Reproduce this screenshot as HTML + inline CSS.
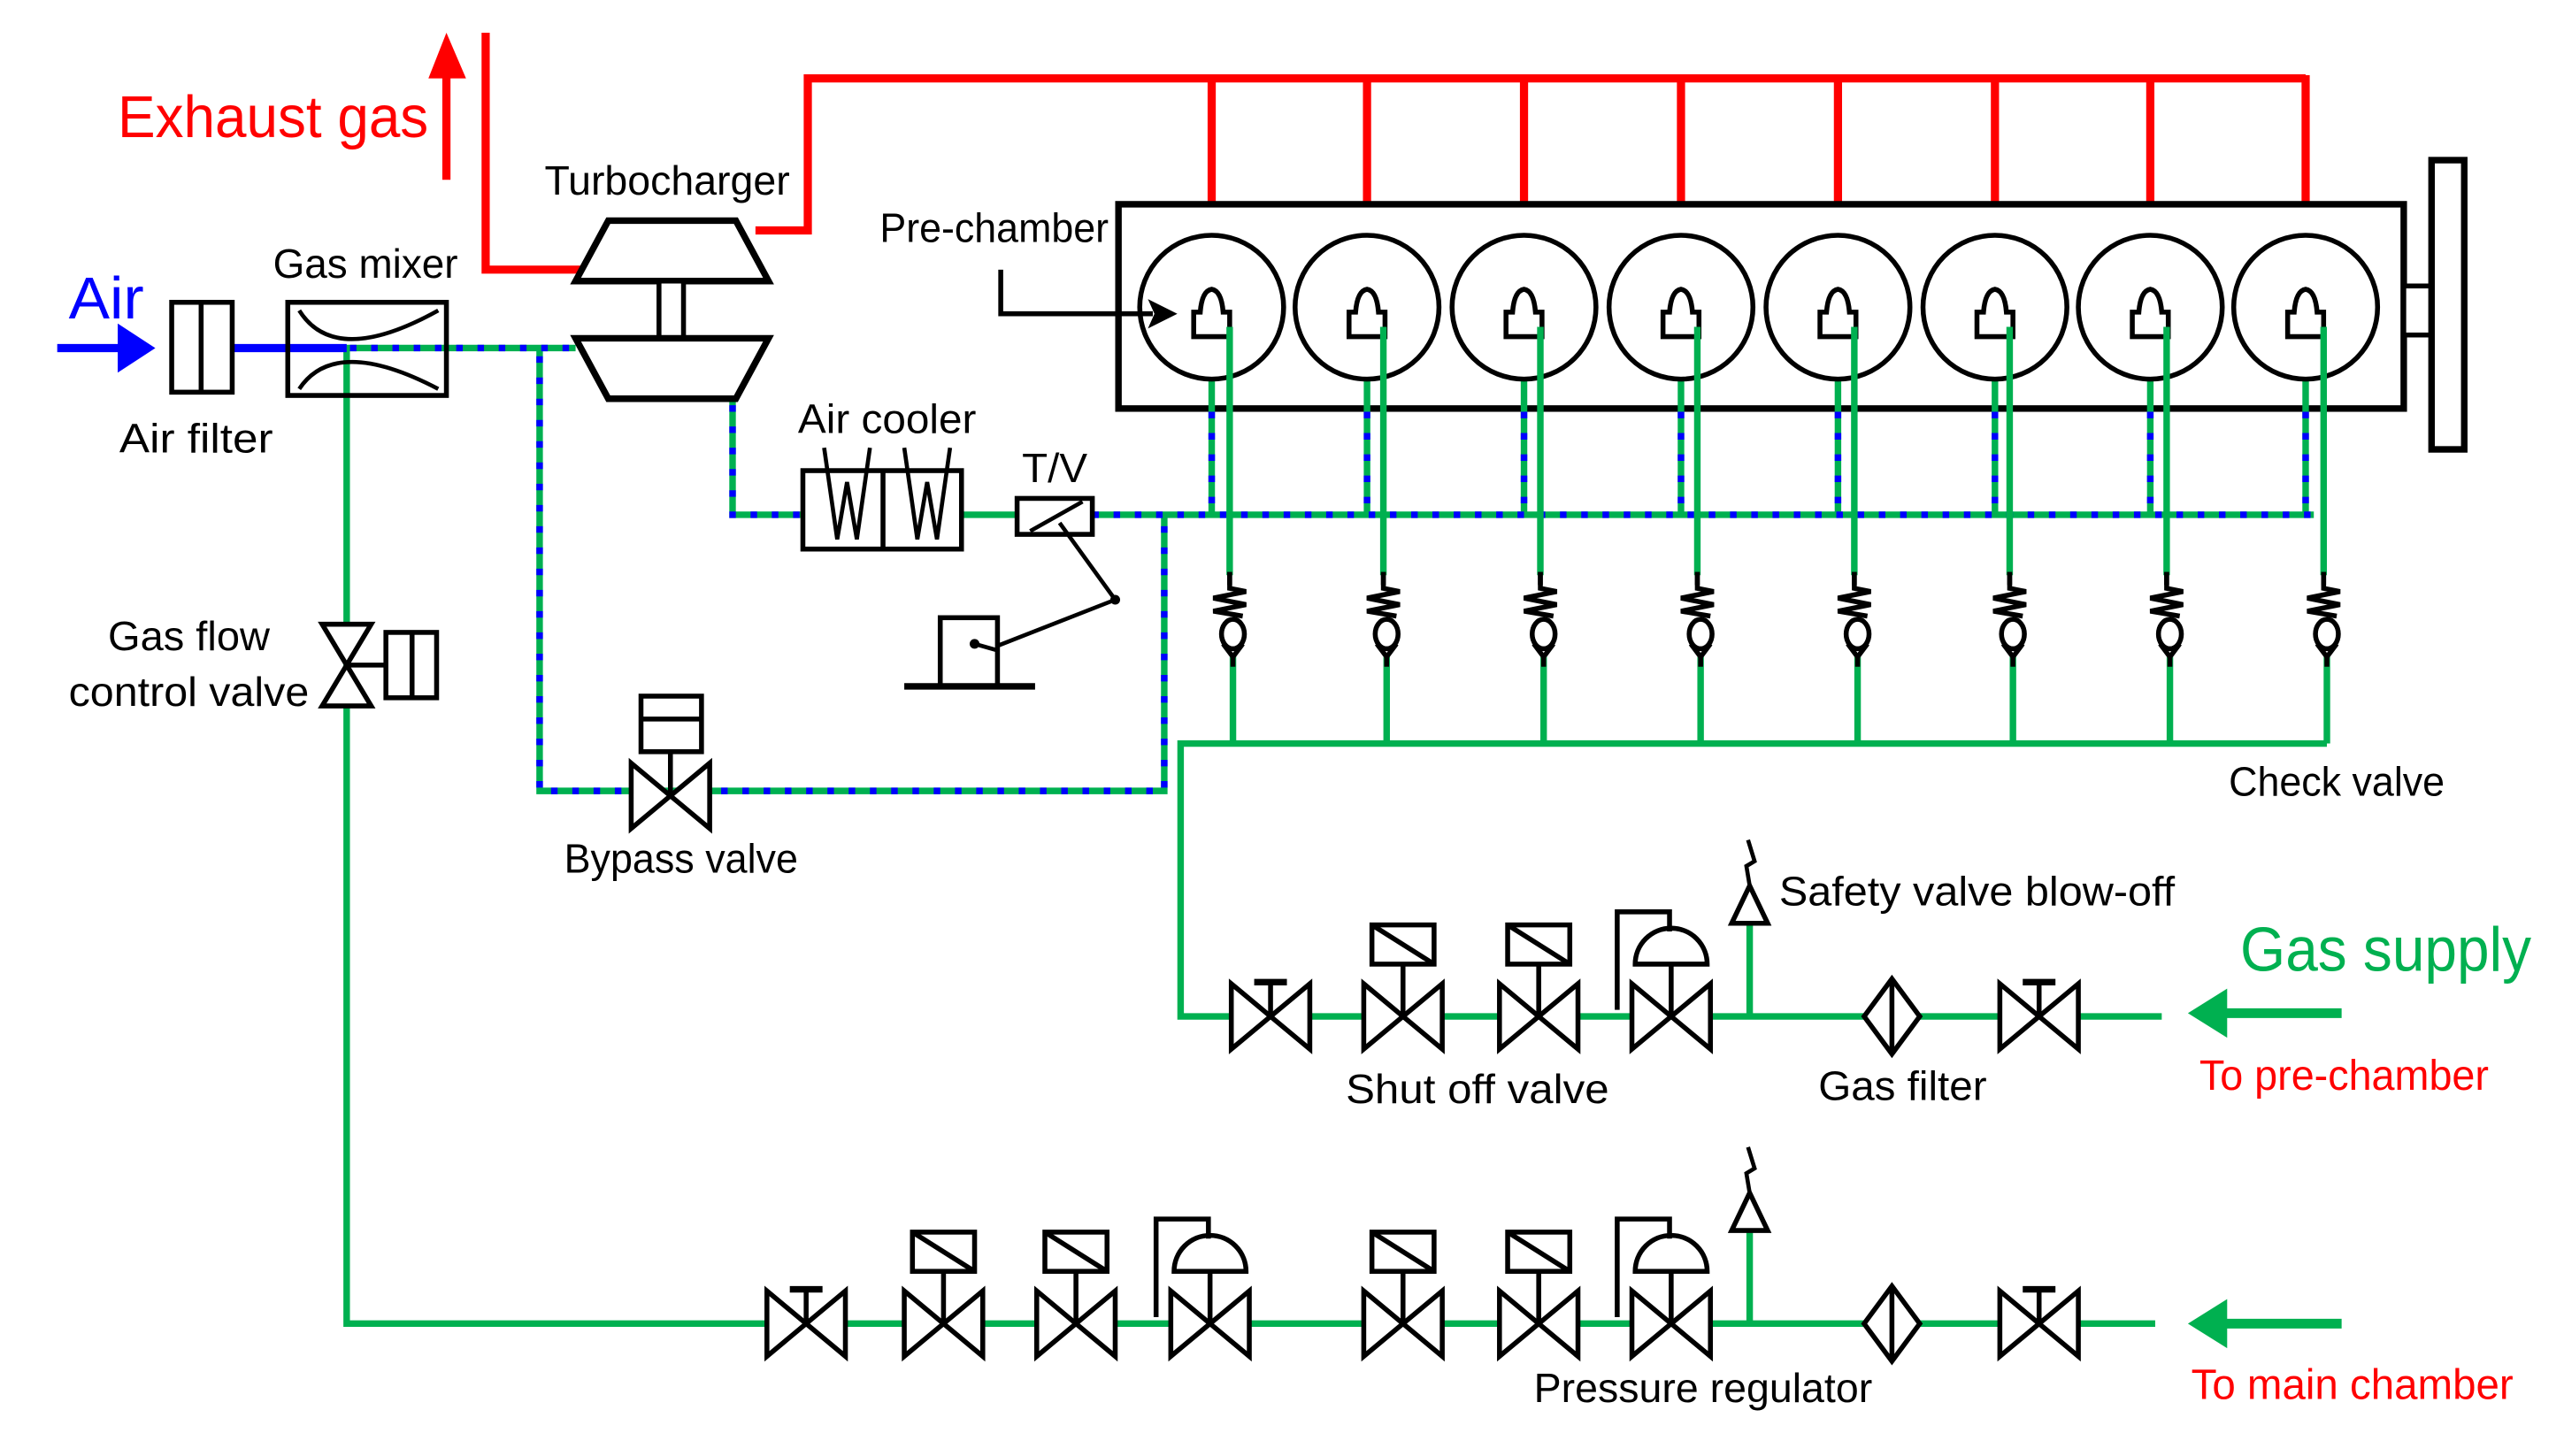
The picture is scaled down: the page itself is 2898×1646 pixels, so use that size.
<!DOCTYPE html>
<html><head><meta charset="utf-8"><style>
html,body{margin:0;padding:0;background:#fff;}
svg{display:block;}
text{font-family:"Liberation Sans Narrow","Liberation Sans",sans-serif;}
</style></head><body>
<svg width="2898" height="1646" viewBox="0 0 1568 891" preserveAspectRatio="none" xmlns="http://www.w3.org/2000/svg">
<defs>
<g id="bt"><path d="M-24,-20 L24,20 L24,-20 L-24,20 Z" fill="#fff" stroke="#000" stroke-width="3"/></g>
<g id="man"><use href="#bt"/><line x1="0" y1="0" x2="0" y2="-20" stroke="#000" stroke-width="3"/><line x1="-10" y1="-21" x2="10" y2="-21" stroke="#000" stroke-width="4"/></g>
<g id="sol"><use href="#bt"/><line x1="0" y1="0" x2="0" y2="-32" stroke="#000" stroke-width="3"/><rect x="-19" y="-56" width="38" height="24" fill="#fff" stroke="#000" stroke-width="3"/><line x1="-19" y1="-56" x2="19" y2="-32" stroke="#000" stroke-width="3"/></g>
<g id="reg"><use href="#bt"/><line x1="0" y1="0" x2="0" y2="-32" stroke="#000" stroke-width="3"/><path d="M-22,-32 A22,22 0 0 1 22,-32 Z" fill="#fff" stroke="#000" stroke-width="3"/><path d="M-33,-4 L-33,-64 L-1,-64 L-1,-52" fill="none" stroke="#000" stroke-width="3"/></g>
<g id="saf"><line x1="0" y1="0" x2="0" y2="-57" stroke="#00b050" stroke-width="4"/><path d="M0,-80 L-11,-57 L11,-57 Z" fill="#fff" stroke="#000" stroke-width="3"/><path d="M0,-80 L-2,-92 L3,-95 L-1,-108" fill="none" stroke="#000" stroke-width="2.5"/></g>
<g id="flt"><path d="M0,-23 L17,0 L0,23 L-17,0 Z" fill="#fff" stroke="#000" stroke-width="3"/><line x1="0" y1="-23" x2="0" y2="23" stroke="#000" stroke-width="3"/></g>
<g id="chk"><line x1="0" y1="0" x2="0" y2="-8" stroke="#000" stroke-width="3"/><path d="M0,-8 L0,2 L10,4 L-10,8 L10,12 L-10,16 L8,19" fill="none" stroke="#000" stroke-width="3"/><ellipse cx="2" cy="30" rx="7" ry="9" fill="#fff" stroke="#000" stroke-width="3"/><path d="M-4,36 L2,44 L8,36" fill="none" stroke="#000" stroke-width="3"/><line x1="2" y1="44" x2="2" y2="50" stroke="#000" stroke-width="3"/></g>
<g id="chamb"><circle r="44" fill="#fff" stroke="#000" stroke-width="3"/><path d="M-11,18 L-11,3 L-7,3 Q-6,-10 0,-11 Q6,-10 7,3 L11,3 L11,18 Z" fill="#fff" stroke="#000" stroke-width="3"/></g>
</defs>

<g stroke="#ff0000" stroke-width="5" fill="none">
<polyline points="297,20 297,165 356,165"/>
<polyline points="462,141 494,141 494,48 1410,48"/>
<line x1="741" y1="46" x2="741" y2="145"/><line x1="836" y1="46" x2="836" y2="145"/><line x1="932" y1="46" x2="932" y2="145"/><line x1="1028" y1="46" x2="1028" y2="145"/><line x1="1124" y1="46" x2="1124" y2="145"/><line x1="1220" y1="46" x2="1220" y2="145"/><line x1="1315" y1="46" x2="1315" y2="145"/><line x1="1410" y1="46" x2="1410" y2="145"/>
<line x1="273" y1="110" x2="273" y2="44"/>
</g>
<path d="M262,48 L273,20 L285,48 Z" fill="#ff0000"/>
<text x="72" y="84" font-size="36" fill="#ff0000" textLength="190" lengthAdjust="spacingAndGlyphs">Exhaust gas</text>

<rect x="684" y="125" width="786" height="125" fill="#fff" stroke="#000" stroke-width="4"/>
<rect x="1470" y="175" width="17" height="30" fill="#fff" stroke="#000" stroke-width="3"/>
<rect x="1487" y="98" width="20" height="177" fill="#fff" stroke="#000" stroke-width="4"/>

<g fill="none" stroke-width="4">
<g stroke="#00b050">
<polyline points="210,213 352,213"/>
<polyline points="330,213 330,484 712,484 712,315"/>
<polyline points="448,244 448,315 491,315"/>
<polyline points="588,315 622,315"/>
<polyline points="668,315 1415,315"/>
<line x1="741" y1="232" x2="741" y2="315"/><line x1="836" y1="232" x2="836" y2="315"/><line x1="932" y1="232" x2="932" y2="315"/><line x1="1028" y1="232" x2="1028" y2="315"/><line x1="1124" y1="232" x2="1124" y2="315"/><line x1="1220" y1="232" x2="1220" y2="315"/><line x1="1315" y1="232" x2="1315" y2="315"/><line x1="1410" y1="232" x2="1410" y2="315"/>
</g>
<g stroke="#0000ff" stroke-dasharray="4 9">
<polyline points="214,213 352,213"/>
<polyline points="330,218 330,484 712,484 712,315"/>
<polyline points="448,248 448,315 491,315"/>
<polyline points="668,315 1415,315"/>
<line x1="741" y1="252" x2="741" y2="315"/><line x1="836" y1="252" x2="836" y2="315"/><line x1="932" y1="252" x2="932" y2="315"/><line x1="1028" y1="252" x2="1028" y2="315"/><line x1="1124" y1="252" x2="1124" y2="315"/><line x1="1220" y1="252" x2="1220" y2="315"/><line x1="1315" y1="252" x2="1315" y2="315"/><line x1="1410" y1="252" x2="1410" y2="315"/>
</g>
</g>

<use href="#chamb" x="741" y="188"/><use href="#chamb" x="836" y="188"/><use href="#chamb" x="932" y="188"/><use href="#chamb" x="1028" y="188"/><use href="#chamb" x="1124" y="188"/><use href="#chamb" x="1220" y="188"/><use href="#chamb" x="1315" y="188"/><use href="#chamb" x="1410" y="188"/>

<g stroke="#00b050" stroke-width="4" fill="none">
<polyline points="212,213 212,810 1318,810"/>
<line x1="752" y1="200" x2="752" y2="352"/><line x1="846" y1="200" x2="846" y2="352"/><line x1="942" y1="200" x2="942" y2="352"/><line x1="1038" y1="200" x2="1038" y2="352"/><line x1="1134" y1="200" x2="1134" y2="352"/><line x1="1229" y1="200" x2="1229" y2="352"/><line x1="1325" y1="200" x2="1325" y2="352"/><line x1="1421" y1="200" x2="1421" y2="352"/>
<line x1="754" y1="402" x2="754" y2="455"/><line x1="848" y1="402" x2="848" y2="455"/><line x1="944" y1="402" x2="944" y2="455"/><line x1="1040" y1="402" x2="1040" y2="455"/><line x1="1136" y1="402" x2="1136" y2="455"/><line x1="1231" y1="402" x2="1231" y2="455"/><line x1="1327" y1="402" x2="1327" y2="455"/><line x1="1423" y1="402" x2="1423" y2="455"/>
<polyline points="1423,455 722,455 722,622 1322,622"/>
<line x1="1432" y1="620" x2="1358" y2="620" stroke-width="6"/>
<line x1="1432" y1="810" x2="1358" y2="810" stroke-width="6"/>
</g>
<path d="M1338,620 L1362,605 L1362,635 Z" fill="#00b050"/>
<path d="M1338,810 L1362,795 L1362,825 Z" fill="#00b050"/>

<use href="#chk" x="752" y="358"/><use href="#chk" x="846" y="358"/><use href="#chk" x="942" y="358"/><use href="#chk" x="1038" y="358"/><use href="#chk" x="1134" y="358"/><use href="#chk" x="1229" y="358"/><use href="#chk" x="1325" y="358"/><use href="#chk" x="1421" y="358"/>

<path d="M372,135 L450,135 L470,172 L352,172 Z" fill="#fff" stroke="#000" stroke-width="4"/>
<rect x="403" y="172" width="15" height="35" fill="#fff" stroke="#000" stroke-width="3"/>
<path d="M352,207 L470,207 L450,244 L372,244 Z" fill="#fff" stroke="#000" stroke-width="4"/>

<line x1="35" y1="213" x2="75" y2="213" stroke="#0000ff" stroke-width="5"/>
<path d="M95,213 L72,198 L72,228 Z" fill="#0000ff"/>
<line x1="142" y1="213" x2="212" y2="213" stroke="#0000ff" stroke-width="5"/>
<text x="42" y="195" font-size="36" fill="#0000ff" textLength="46" lengthAdjust="spacingAndGlyphs">Air</text>
<rect x="105" y="185" width="37" height="55" fill="#fff" stroke="#000" stroke-width="3"/>
<line x1="123" y1="185" x2="123" y2="240" stroke="#000" stroke-width="3"/>
<rect x="176" y="185" width="97" height="57" fill="none" stroke="#000" stroke-width="3"/>
<path d="M183,190 Q205,225 268,190" fill="none" stroke="#000" stroke-width="2.5"/>
<path d="M183,238 Q205,205 268,238" fill="none" stroke="#000" stroke-width="2.5"/>

<path d="M197,382 L227,382 L197,432 L227,432 Z" fill="#fff" stroke="#000" stroke-width="3"/>
<line x1="212" y1="407" x2="236" y2="407" stroke="#000" stroke-width="3"/>
<rect x="236" y="387" width="31" height="40" fill="#fff" stroke="#000" stroke-width="3"/>
<line x1="252" y1="387" x2="252" y2="427" stroke="#000" stroke-width="3"/>

<use href="#bt" x="410" y="487"/>
<line x1="410" y1="487" x2="410" y2="460" stroke="#000" stroke-width="3"/>
<rect x="392" y="426" width="37" height="34" fill="#fff" stroke="#000" stroke-width="3"/>
<line x1="392" y1="440" x2="429" y2="440" stroke="#000" stroke-width="3"/>

<rect x="491" y="288" width="97" height="48" fill="#fff" stroke="#000" stroke-width="3"/>
<line x1="540" y1="288" x2="540" y2="336" stroke="#000" stroke-width="3"/>
<path d="M504,274 L512,330 L518,295 L524,330 L532,274" fill="none" stroke="#000" stroke-width="2.5"/>
<path d="M553,274 L561,330 L567,295 L573,330 L581,274" fill="none" stroke="#000" stroke-width="2.5"/>

<rect x="622" y="305" width="46" height="22" fill="#fff" stroke="#000" stroke-width="3"/>
<line x1="630" y1="325" x2="662" y2="307" stroke="#000" stroke-width="2.5"/>
<polyline points="648,320 682,367 608,396" fill="none" stroke="#000" stroke-width="2.5"/>
<circle cx="682" cy="367" r="3" fill="#000"/>
<rect x="575" y="378" width="35" height="42" fill="#fff" stroke="#000" stroke-width="3"/>
<line x1="553" y1="420" x2="633" y2="420" stroke="#000" stroke-width="4"/>
<line x1="596" y1="394" x2="610" y2="398" stroke="#000" stroke-width="2.5"/>
<circle cx="596" cy="394" r="3" fill="#000"/>

<polyline points="612,165 612,192 705,192" fill="none" stroke="#000" stroke-width="3"/>
<path d="M720,192 L702,183 L706,192 L702,201 Z" fill="#000"/>

<use href="#man" x="777" y="622"/>
<use href="#sol" x="858" y="622"/>
<use href="#sol" x="941" y="622"/>
<use href="#reg" x="1022" y="622"/>
<use href="#saf" x="1070" y="622"/>
<use href="#flt" x="1157" y="622"/>
<use href="#man" x="1247" y="622"/>

<use href="#man" x="493" y="810"/>
<use href="#sol" x="577" y="810"/>
<use href="#sol" x="658" y="810"/>
<use href="#reg" x="740" y="810"/>
<use href="#sol" x="858" y="810"/>
<use href="#sol" x="941" y="810"/>
<use href="#reg" x="1022" y="810"/>
<use href="#saf" x="1070" y="810"/>
<use href="#flt" x="1157" y="810"/>
<use href="#man" x="1247" y="810"/>

<g font-size="25" fill="#000">
<text x="333" y="119" textLength="150" lengthAdjust="spacingAndGlyphs">Turbocharger</text>
<text x="167" y="170" textLength="113" lengthAdjust="spacingAndGlyphs">Gas mixer</text>
<text x="538" y="148" textLength="140" lengthAdjust="spacingAndGlyphs">Pre-chamber</text>
<text x="73" y="277" textLength="94" lengthAdjust="spacingAndGlyphs">Air filter</text>
<text x="488" y="265" textLength="109" lengthAdjust="spacingAndGlyphs">Air cooler</text>
<text x="625" y="295" textLength="40" lengthAdjust="spacingAndGlyphs">T/V</text>
<text x="66" y="398" textLength="99" lengthAdjust="spacingAndGlyphs">Gas flow</text>
<text x="42" y="432" textLength="147" lengthAdjust="spacingAndGlyphs">control valve</text>
<text x="345" y="534" textLength="143" lengthAdjust="spacingAndGlyphs">Bypass valve</text>
<text x="1363" y="487" textLength="132" lengthAdjust="spacingAndGlyphs">Check valve</text>
<text x="1088" y="554" textLength="242" lengthAdjust="spacingAndGlyphs">Safety valve blow-off</text>
<text x="823" y="675" textLength="161" lengthAdjust="spacingAndGlyphs">Shut off valve</text>
<text x="1112" y="673" textLength="103" lengthAdjust="spacingAndGlyphs">Gas filter</text>
<text x="938" y="858" textLength="207" lengthAdjust="spacingAndGlyphs">Pressure regulator</text>
</g>
<text x="1370" y="594" font-size="38" fill="#00b050" textLength="178" lengthAdjust="spacingAndGlyphs">Gas supply</text>
<text x="1345" y="667" font-size="26" fill="#ff0000" textLength="177" lengthAdjust="spacingAndGlyphs">To pre-chamber</text>
<text x="1340" y="856" font-size="26" fill="#ff0000" textLength="197" lengthAdjust="spacingAndGlyphs">To main chamber</text>
</svg>
</body></html>
